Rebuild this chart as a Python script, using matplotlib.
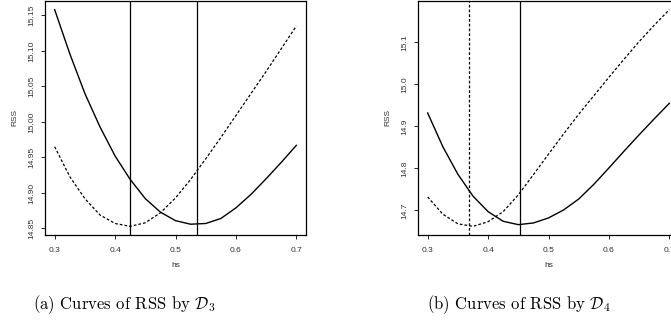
import numpy as np
import matplotlib
matplotlib.use("Agg")
import matplotlib.pyplot as plt

plt.rcParams['mathtext.fontset'] = 'cm'

hs = [0.300, 0.325, 0.350, 0.375, 0.400, 0.425, 0.450, 0.475, 0.500,
      0.525, 0.550, 0.575, 0.600, 0.625, 0.650, 0.675, 0.700]

# Panel (a): D3
d3_solid = [15.158, 15.096, 15.040, 14.993, 14.952, 14.919, 14.892, 14.873, 14.861,
            14.856, 14.857, 14.864, 14.879, 14.898, 14.920, 14.943, 14.967]
d3_dashed = [14.965, 14.923, 14.892, 14.869, 14.857, 14.853, 14.858, 14.872, 14.893,
             14.919, 14.948, 14.978, 15.009, 15.040, 15.071, 15.103, 15.135]
d3_vlines = [0.4245, 0.5355]
d3_vstyles = ['solid', 'solid']
d3_yticks = [14.85, 14.90, 14.95, 15.00, 15.05, 15.10, 15.15]
d3_ylabels = ['14.85', '14.90', '14.95', '15.00', '15.05', '15.10', '15.15']

# Panel (b): D4
d4_solid = [14.932, 14.852, 14.786, 14.734, 14.697, 14.674, 14.666, 14.670, 14.682,
            14.701, 14.727, 14.762, 14.801, 14.841, 14.880, 14.918, 14.955]
d4_dashed = [14.732, 14.691, 14.668, 14.662, 14.673, 14.697, 14.737, 14.785, 14.834,
             14.882, 14.929, 14.973, 15.017, 15.060, 15.102, 15.141, 15.178]
d4_vlines = [0.369, 0.452]
d4_vstyles = ['dashed', 'solid']
d4_yticks = [14.7, 14.8, 14.9, 15.0, 15.1]
d4_ylabels = ['14.7', '14.8', '14.9', '15.0', '15.1']

xticks = [0.3, 0.4, 0.5, 0.6, 0.7]
xticklabels = ['0.3', '0.4', '0.5', '0.6', '0.7']
captions = [r'(a) Curves of RSS by $\mathcal{D}_3$', r'(b) Curves of RSS by $\mathcal{D}_4$']

W, H = 671, 334
fig = plt.figure(figsize=(W / 100, H / 100), dpi=100)

dash = (0, (2.2, 1.6))
tcol = '#333333'
tfont = 'Liberation Sans'


def panel(left_px, solid, dashed, vlines, vstyles, yticks, ylabels):
    ax = fig.add_axes([left_px / W, (H - 235) / H, 261 / W, 234 / H])
    ax.plot(hs, solid, color='black', lw=1.0, ls='-', solid_joinstyle='round')
    ax.plot(hs, dashed, color='black', lw=0.9, ls=dash)
    for v, s in zip(vlines, vstyles):
        ax.axvline(v, color='black', lw=0.9, ls='-' if s == 'solid' else dash)
    allv = solid + dashed
    lo, hi = min(allv), max(allv)
    r = hi - lo
    ax.set_ylim(lo - 0.04 * r, hi + 0.04 * r)
    ax.set_xlim(0.3 - 0.016, 0.7 + 0.016)
    ax.set_xticks(xticks)
    ax.set_xticklabels(xticklabels, family=tfont)
    ax.set_yticks(yticks)
    ax.set_yticklabels(ylabels, rotation=90, va='center', family=tfont)
    ax.tick_params(axis='x', direction='out', length=3, width=0.6,
                   labelsize=6, labelcolor=tcol, pad=5.5)
    ax.tick_params(axis='y', direction='out', length=3, width=0.6,
                   labelsize=6, labelcolor=tcol, pad=4)
    for sp in ax.spines.values():
        sp.set_linewidth(0.9)
        sp.set_color('black')
    ax.set_xlabel('hs', fontsize=6, color=tcol, labelpad=6, family=tfont)
    ax.set_ylabel('RSS', fontsize=6, color=tcol, labelpad=7, family=tfont)
    return ax


ax1 = panel(45, d3_solid, d3_dashed, d3_vlines, d3_vstyles, d3_yticks, d3_ylabels)
ax2 = panel(418, d4_solid, d4_dashed, d4_vlines, d4_vstyles, d4_yticks, d4_ylabels)

fig.text(124 / W, 1 - 305 / H, captions[0], ha='center', va='center',
         fontsize=12, family='cmr10')
fig.text(519 / W, 1 - 305 / H, captions[1], ha='center', va='center',
         fontsize=12, family='cmr10')

fig.savefig('out.png', dpi=100)
